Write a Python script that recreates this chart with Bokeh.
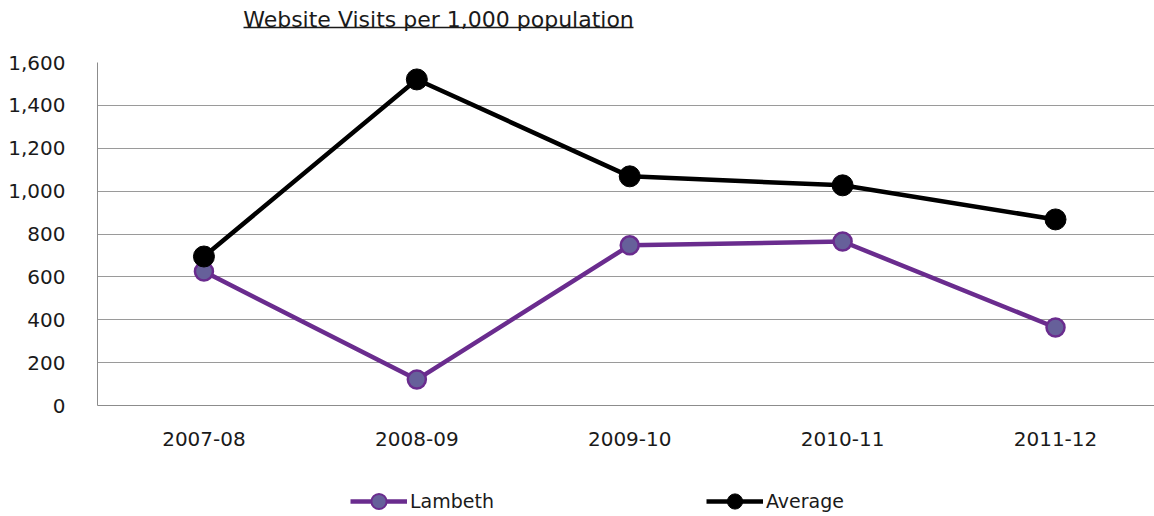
from bokeh.plotting import figure
from bokeh.layouts import column
from bokeh.models import Range1d, Legend, LegendItem, NumeralTickFormatter, FixedTicker
from bokeh.core.properties import value
from bokeh.embed import file_html
from bokeh.resources import INLINE

categories = ["2007-08", "2008-09", "2009-10", "2010-11", "2011-12"]
lambeth = [625, 121, 747, 765, 364]
average = [695, 1521, 1069, 1027, 868]
y_ticks = [0, 200, 400, 600, 800, 1000, 1200, 1400, 1600]
title_text = "Website Visits per 1,000 population"
series_names = ["Lambeth", "Average"]

FONT = "DejaVu Sans"
TXT = "#1a1a1a"
PURPLE = "#6a2c8e"
MARK = "#66609a"
W = 1154
FRAME_L = 97
xs = list(range(len(categories)))

# ---- title strip: frames of the column are aligned, so x data = page pixels ----
t = figure(width=W, height=52, output_backend="svg", toolbar_location=None,
           x_range=Range1d(FRAME_L, W), y_range=Range1d(52, 0),
           min_border=0, x_axis_type=None, y_axis_type=None)
t.outline_line_color = None
t.xgrid.visible = False
t.ygrid.visible = False
t.text(x=[438], y=[19], text=[title_text], text_font=value(FONT), text_font_size="22px",
       text_color=TXT, text_baseline="alphabetic", text_align="center")
t.segment(x0=[243], y0=[27], x1=[633], y1=[27], line_color=TXT, line_width=1.6)

# ---- main chart ----
p = figure(width=W, height=418, output_backend="svg", toolbar_location=None,
           x_range=Range1d(-0.5, 4.465), y_range=Range1d(0, 1600),
           min_border_left=FRAME_L, min_border_right=0, min_border_top=10, min_border_bottom=65)
p.outline_line_color = None

p.xaxis.ticker = FixedTicker(ticks=xs)
p.xaxis.major_label_overrides = {i: c for i, c in enumerate(categories)}
p.yaxis.ticker = FixedTicker(ticks=y_ticks)
p.yaxis.formatter = NumeralTickFormatter(format="0,0")
for ax in (p.xaxis[0], p.yaxis[0]):
    ax.axis_line_color = "#8c8c8c"
    ax.axis_line_width = 1
    ax.major_tick_line_color = None
    ax.minor_tick_line_color = None
    ax.major_label_text_font = FONT
    ax.major_label_text_font_size = "20px"
    ax.major_label_text_color = TXT
p.xaxis.major_label_standoff = 20
p.yaxis.major_label_standoff = 26
p.xgrid.grid_line_color = None
p.ygrid.grid_line_color = "#9a9a9a"
p.ygrid.grid_line_width = 1

p.line(xs, lambeth, line_color=PURPLE, line_width=4.5)
p.scatter(xs, lambeth, size=18, fill_color=MARK, line_color=PURPLE, line_width=2.5)
p.line(xs, average, line_color="black", line_width=4.5)
p.scatter(xs, average, size=21, fill_color="black", line_color="black")

# ---- legend strip (same series; its ranges keep the marks out of view) ----
g = figure(width=W, height=46, output_backend="svg", toolbar_location=None,
           x_range=Range1d(0, 1), y_range=Range1d(-2, -1),
           min_border=0, x_axis_type=None, y_axis_type=None)
g.outline_line_color = None
g.xgrid.visible = False
g.ygrid.visible = False
gl1 = g.line(xs, lambeth, line_color=PURPLE, line_width=4.5)
gc1 = g.scatter(xs, lambeth, size=16, fill_color=MARK, line_color=PURPLE, line_width=2)
gl2 = g.line(xs, average, line_color="black", line_width=4.5)
gc2 = g.scatter(xs, average, size=17, fill_color="black", line_color="black")
legend = Legend(items=[LegendItem(label=value(series_names[0]), renderers=[gl1, gc1]),
                       LegendItem(label=value(series_names[1]), renderers=[gl2, gc2])],
                orientation="horizontal", location=(253, -4),
                glyph_width=57, glyph_height=38, label_standoff=3, spacing=212,
                padding=0, margin=0, border_line_color=None, background_fill_alpha=0,
                label_text_font=FONT, label_text_font_size="19px", label_text_color=TXT)
g.add_layout(legend, "center")

layout = column(t, p, g, spacing=0)
open("out.html", "w").write(file_html(layout, INLINE))
